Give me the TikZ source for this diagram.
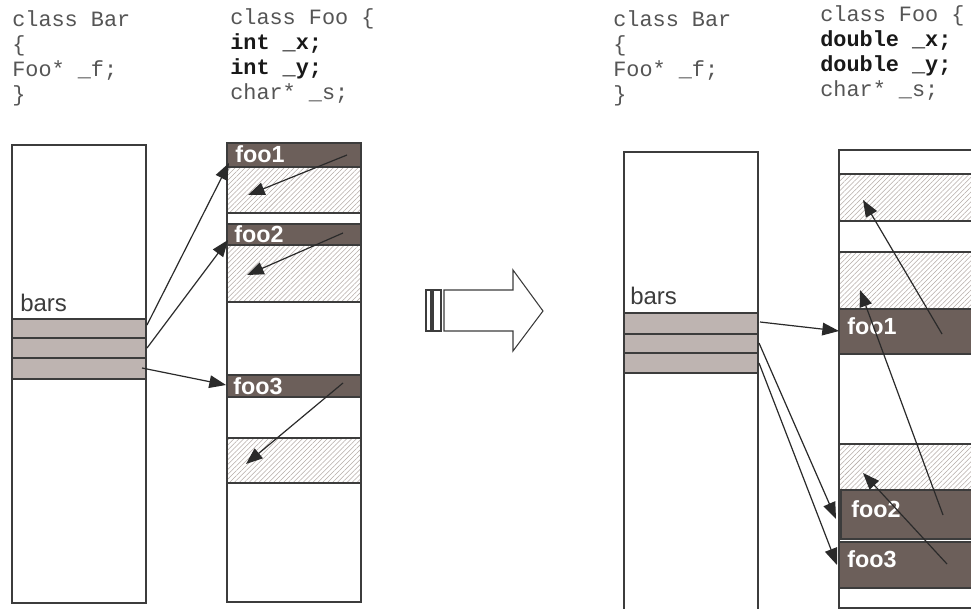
\documentclass[tikz,border=0pt]{standalone}
\usepackage{fontspec}
\setsansfont{Liberation Sans}
\setmonofont{Liberation Mono}
\usetikzlibrary{arrows.meta,patterns.meta}
\definecolor{edgec}{HTML}{3C3C3C}
\definecolor{darkc}{HTML}{6C5F5A}
\definecolor{rowc}{HTML}{BEB4B1}
\definecolor{hatchc}{HTML}{B5ABA7}
\definecolor{codec}{HTML}{555555}
\definecolor{arrc}{HTML}{2A2A2A}
\newcommand\mybox[6]{%
  \node[#6, anchor=north west, minimum width={(#4-#2)*0.75pt}, minimum height={(#5-#3)*0.75pt}] (#1) at (#2,#3) {};}
\tikzset{
  colbox/.style={draw=edgec, line width=0.8pt, fill=white, inner sep=0pt, outer sep=0pt},
  darkbox/.style={colbox, fill=darkc},
  rowbox/.style={colbox, fill=rowc},
  hatchbox/.style={colbox, fill=none, pattern={Lines[angle=45,distance=2.6pt,line width=0.4pt]}, pattern color=hatchc},
  lbl/.style={text=white, font=\sffamily\bfseries\fontsize{17.5}{17.5}\selectfont, anchor=base west, inner sep=0pt},
  barslbl/.style={text=edgec, font=\sffamily\fontsize{18}{18}\selectfont, anchor=base west, inner sep=0pt},
  code/.style={text=codec, font=\ttfamily\fontsize{16.4}{16.4}\selectfont, anchor=base west, inner sep=0pt},
  codeb/.style={code, text=black!90, font=\ttfamily\bfseries\fontsize{16.4}{16.4}\selectfont},
  conn/.style={draw=arrc, line width=0.9pt, -{Triangle[length=12.5pt,width=9.5pt]}},
  bigarrow/.style={draw=edgec, line width=0.8pt, fill=white}
}
\begin{document}
\begin{tikzpicture}[x=0.75pt,y=-0.75pt]
\path[use as bounding box, clip] (0,0) rectangle (971,609);
\fill[white] (0,0) rectangle (971,609);

% ---------- code texts ----------
\node[code] (lb1) at (12,27) {class Bar};
\node[code] (lb2) at (12,52) {\{};
\node[code] (lb3) at (12,77) {Foo* \_f;};
\node[code] (lb4) at (12,102) {\}};
\node[code] (lf1t) at (230,25) {class Foo \{};
\node[codeb] (lf2t) at (230,50) {int \_x;};
\node[codeb] (lf3t) at (230,75) {int \_y;};
\node[code] (lf4t) at (230,100) {char* \_s;};

\node[code] (rb1) at (613,27) {class Bar};
\node[code] (rb2) at (613,52) {\{};
\node[code] (rb3) at (613,77) {Foo* \_f;};
\node[code] (rb4) at (613,102) {\}};
\node[code] (rf1t) at (820,22) {class Foo \{};
\node[codeb] (rf2t) at (820,47) {double \_x;};
\node[codeb] (rf3t) at (820,72) {double \_y;};
\node[code] (rf4t) at (820,97) {char* \_s;};

% ---------- left Bar column ----------
\mybox{lbar}{12}{145}{146}{603}{colbox}
\mybox{lr1}{12}{319}{146}{338}{rowbox}
\mybox{lr2}{12}{338}{146}{358}{rowbox}
\mybox{lr3}{12}{358}{146}{379}{rowbox}
\node[barslbl] (lbars) at (20,312) {bars};

% ---------- left Foo column ----------
\mybox{lfoo}{227}{143}{361}{602}{colbox}
\mybox{lf1}{227}{143}{361}{167}{darkbox}
\mybox{lh1}{227}{167}{361}{213}{hatchbox}
\mybox{lf2}{227}{224}{361}{245}{darkbox}
\mybox{lh2}{227}{245}{361}{302}{hatchbox}
\mybox{lf3}{227}{375}{361}{397}{darkbox}
\mybox{lh3}{227}{438}{361}{483}{hatchbox}
\node[lbl] (lfoo1) at (235,163) {foo1};
\node[lbl] (lfoo2) at (234,243) {foo2};
\node[lbl] (lfoo3) at (233,395) {foo3};

% ---------- left arrows ----------
\coordinate (la1s) at (147,325);
\coordinate (la1e) at (229,163);
\coordinate (la2s) at (147,348);
\coordinate (la2e) at (228,240);
\coordinate (la3s) at (142,368);
\coordinate (la3e) at (226,385);
\coordinate (li1s) at (347,155);
\coordinate (li1e) at (248,195);
\coordinate (li2s) at (343,233);
\coordinate (li2e) at (247,275);
\coordinate (li3s) at (343,383);
\coordinate (li3e) at (246,464);
\draw[conn] (la1s) -- (la1e);
\draw[conn] (la2s) -- (la2e);
\draw[conn] (la3s) -- (la3e);
\draw[conn] (li1s) -- (li1e);
\draw[conn] (li2s) -- (li2e);
\draw[conn] (li3s) -- (li3e);

% ---------- middle block arrow ----------
\draw[bigarrow] (426,290) rectangle (431,331);
\draw[bigarrow] (433,290) rectangle (441,331);
\draw[bigarrow] (444,290) -- (513,290) -- (513,270) -- (543,311) -- (513,351) -- (513,331) -- (444,331) -- cycle;

% ---------- right Bar column ----------
\mybox{rbar}{624}{152}{758}{640}{colbox}
\mybox{rr1}{624}{313}{758}{334}{rowbox}
\mybox{rr2}{624}{334}{758}{353}{rowbox}
\mybox{rr3}{624}{353}{758}{373}{rowbox}
\node[barslbl] (rbars) at (630,305) {bars};

% ---------- right Foo column ----------
\mybox{rfoo}{839}{150}{1000}{608}{colbox}
\mybox{rh1}{839}{174}{1000}{221}{hatchbox}
\mybox{rh2}{839}{252}{1000}{309}{hatchbox}
\mybox{rf1}{839}{309}{1000}{354}{darkbox}
\mybox{rh3}{839}{444}{1000}{490}{hatchbox}
\mybox{rf2}{841}{490}{1000}{539}{darkbox}
\mybox{rf3}{839}{542}{1000}{588}{darkbox}
\node[lbl] (rfoo1) at (847,335) {foo1};
\node[lbl] (rfoo2) at (851,517) {foo2};
\node[lbl] (rfoo3) at (847,567) {foo3};

% ---------- right arrows ----------
\coordinate (ra1s) at (760,322);
\coordinate (ra1e) at (839,331);
\coordinate (ra2s) at (759,343);
\coordinate (ra2e) at (836,519);
\coordinate (ra3s) at (759,363);
\coordinate (ra3e) at (837,565);
\coordinate (ri1s) at (942,334);
\coordinate (ri1e) at (863,200);
\coordinate (ri2s) at (943,515);
\coordinate (ri2e) at (860,290);
\coordinate (ri3s) at (947,564);
\coordinate (ri3e) at (863,473);
\draw[conn] (ra1s) -- (ra1e);
\draw[conn] (ra2s) -- (ra2e);
\draw[conn] (ra3s) -- (ra3e);
\draw[conn] (ri1s) -- (ri1e);
\draw[conn] (ri2s) -- (ri2e);
\draw[conn] (ri3s) -- (ri3e);
\end{tikzpicture}
\end{document}
